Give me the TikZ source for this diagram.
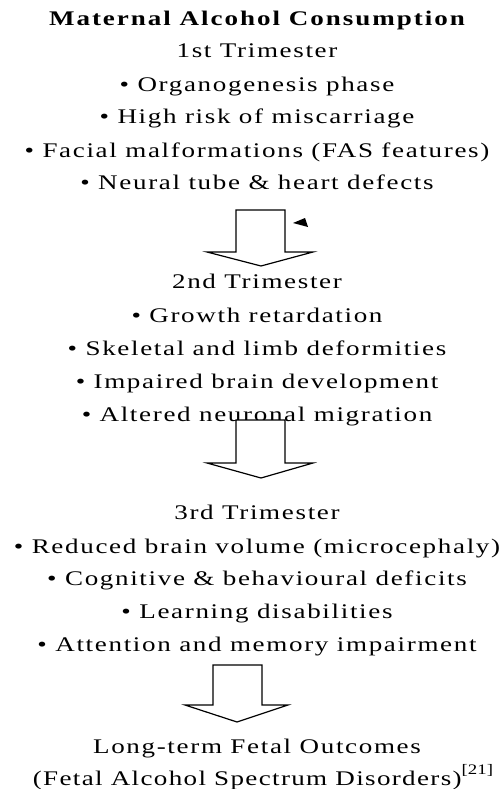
\documentclass[tikz,border=0pt]{standalone}
\usepackage{fontspec}
\setmainfont{Liberation Serif}[FakeStretch=1.3, LetterSpace=8]
\newcommand{\refmark}[1]{\raisebox{0.5em}{\fontsize{14.5}{14.5}\selectfont\addfontfeatures{LetterSpace=0}#1}}
\begin{document}
\begin{tikzpicture}[x=1pt,y=-1pt,
  txt/.style={anchor=base, inner sep=0pt, font=\fontsize{20.8}{21}\selectfont},
  ttl/.style={txt, font=\fontsize{20.8}{21}\selectfont\bfseries\addfontfeatures{LetterSpace=9.5}},
  blockarrow/.style={draw=black, line width=1.2pt, fill=white, line join=miter}]
\useasboundingbox (0,0) rectangle (502,789);
\fill[white] (0,0) rectangle (502,789);
\def\cx{257}
\node[ttl] (title) at (\cx,26) {Maternal Alcohol Consumption};
\node[txt] (t1) at (\cx,58) {1st Trimester};
\node[txt] (a1) at (\cx,92) {• Organogenesis phase};
\node[txt] (a2) at (\cx,124) {• High risk of miscarriage};
\node[txt] (a3) at (\cx,157) {• Facial malformations (FAS features)};
\node[txt] (a4) at (\cx,189) {• Neural tube \& heart defects};
% arrow 1
\draw[blockarrow] (236,210) -- (285,210) -- (285,252) -- (313,252) -- (261,266) -- (207,252) -- (236,252) -- cycle;
\fill[black] (293,223) -- (305,218) -- (308,227) -- cycle;
\node[txt] (t2) at (\cx,288) {2nd Trimester};
\node[txt] (b1) at (\cx,322) {• Growth retardation};
\node[txt] (b2) at (\cx,355) {• Skeletal and limb deformities};
\node[txt] (b3) at (\cx,388) {• Impaired brain development};
\node[txt] (b4) at (\cx,421) {• Altered neuronal migration};
% arrow 2
\draw[blockarrow] (236,420) -- (285,420) -- (285,463) -- (313,463) -- (261,478) -- (207,463) -- (236,463) -- cycle;
\node[txt] (t3) at (\cx,519) {3rd Trimester};
\node[txt] (c1) at (\cx,553) {• Reduced brain volume (microcephaly)};
\node[txt] (c2) at (\cx,585) {• Cognitive \& behavioural deficits};
\node[txt] (c3) at (\cx,618) {• Learning disabilities};
\node[txt] (c4) at (\cx,651) {• Attention and memory impairment};
% arrow 3
\draw[blockarrow] (213,665) -- (262,665) -- (262,705) -- (288,705) -- (237,722) -- (185,705) -- (213,705) -- cycle;
\node[txt] (t4) at (\cx,753) {Long-term Fetal Outcomes};
\node[txt, font=\fontsize{20.8}{21}\selectfont\addfontfeatures{LetterSpace=6.5}] (d1) at (263,785) {(Fetal Alcohol Spectrum Disorders)\refmark{[21]}};
\end{tikzpicture}
\end{document}
